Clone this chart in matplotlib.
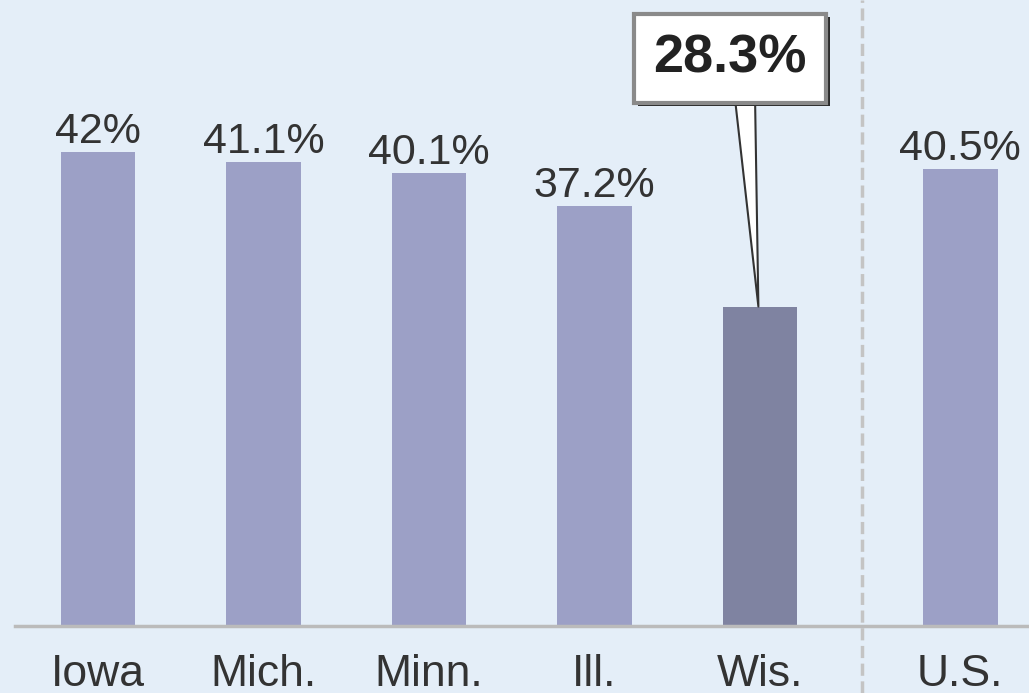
import numpy as np
import matplotlib.pyplot as plt
import matplotlib.patheffects as pe

plt.rcParams["font.family"] = ["Liberation Sans", "DejaVu Sans"]

STATES = ["Iowa", "Mich.", "Minn.", "Ill.", "Wis.", "U.S."]
VALUES = [42.0, 41.1, 40.1, 37.2, 28.3, 40.5]
VALUE_LABELS = ["42%", "41.1%", "40.1%", "37.2%", "28.3%", "40.5%"]
HIGHLIGHT = "Wis."

BG = "#e4eef8"
BAR = "#9ca0c6"
BAR_DARK = "#7f83a1"
TEXT = "#333333"
US_GAP = 0.21  # extra space before the national bar


def main() -> None:
    fig = plt.figure(figsize=(10.29, 6.93), dpi=100, facecolor=BG)
    ax = fig.add_axes([0, 0, 1, 1])
    ax.set_facecolor(BG)

    x = np.arange(len(STATES), dtype=float)
    x[-1] += US_GAP
    colors = [BAR_DARK if s == HIGHLIGHT else BAR for s in STATES]

    ax.bar(x, VALUES, width=0.45, color=colors, zorder=2)

    for xi, v, lab, s in zip(x, VALUES, VALUE_LABELS, STATES):
        if s != HIGHLIGHT:
            ax.text(xi, v + 0.8, lab, ha="center", va="baseline",
                    fontsize=31, color=TEXT)
        ax.text(xi, -5.3, s, ha="center", va="baseline", fontsize=32, color=TEXT)

    # callout for Wisconsin
    hi = STATES.index(HIGHLIGHT)
    ann = ax.annotate(
        VALUE_LABELS[hi], xy=(x[hi] - 0.01, VALUES[hi]),
        xytext=(x[hi] - 0.18, 50.3),
        ha="center", va="center", fontsize=39, fontweight="bold", color="#222222",
        bbox=dict(boxstyle="square,pad=0.36", fc="white", ec="#8a8a8a", lw=3),
        arrowprops=dict(arrowstyle="wedge,tail_width=0.36,shrink_factor=0.5",
                        fc="white", ec="#333333", lw=1.5, relpos=(0.59, 0.0),
                        shrinkA=0, shrinkB=0),
        zorder=5,
    )
    ann.get_bbox_patch().set_path_effects([
        pe.withSimplePatchShadow(offset=(2.5, -2.5), shadow_rgbFace="#2a2a2a", alpha=1.0)
    ])

    # baseline and separator before the U.S. bar
    ax.axhline(0, xmin=0.015, xmax=1, color="#bbbbbb", lw=2.5, zorder=3)
    ax.axvline((x[-2] + x[-1]) / 2 + 0.01, color="#c4c4c4", lw=2.5,
               dashes=(3.5, 1.6), zorder=1)

    ax.set_xlim(-0.592, 5.625)
    ax.set_ylim(-5.93, 55.45)
    ax.axis("off")

    fig.savefig("out.png", dpi=100, facecolor=BG)


if __name__ == "__main__":
    main()
